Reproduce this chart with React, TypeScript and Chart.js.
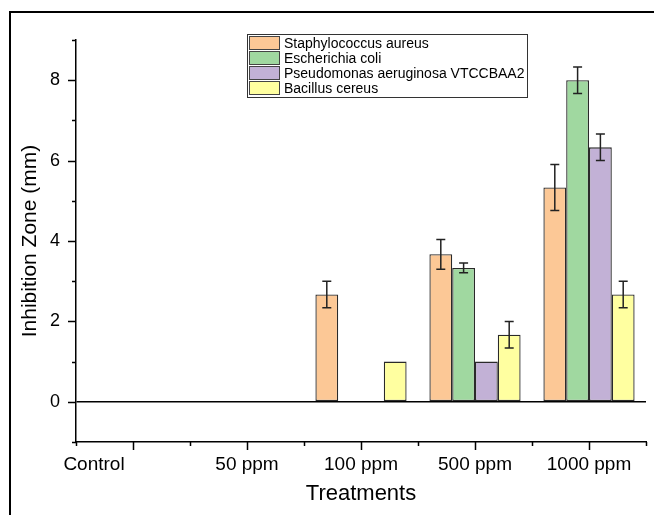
import React, { useEffect, useRef } from 'react';
import { Chart, registerables } from 'chart.js';

Chart.register(...registerables);

const categories = ['Control', '50 ppm', '100 ppm', '500 ppm', '1000 ppm'];
const seriesNames = [
  'Staphylococcus aureus',
  'Escherichia coli',
  'Pseudomonas aeruginosa VTCCBAA2',
  'Bacillus cereus',
];
const staphValues = [0, 0, 2.67, 3.67, 5.33];
const staphErrors = [0, 0, 0.33, 0.37, 0.57];
const ecoliValues = [0, 0, 0, 3.33, 8.0];
const ecoliErrors = [0, 0, 0, 0.12, 0.33];
const pseudoValues = [0, 0, 0, 1.0, 6.33];
const pseudoErrors = [0, 0, 0, 0, 0.33];
const bacillusValues = [0, 0, 1.0, 1.67, 2.67];
const bacillusErrors = [0, 0, 0, 0.33, 0.33];
const seriesColors = ['#FCC896', '#A0D8A0', '#C2B1D6', '#FFFFA0'];
const yMajorTicks = [0, 2, 4, 6, 8];

const FONT = "'Liberation Sans', Arial, sans-serif";

const framePlugin = {
  id: 'frame',
  beforeDraw(chart: any) {
    const ctx = chart.ctx;
    ctx.save();
    ctx.fillStyle = '#ffffff';
    ctx.fillRect(0, 0, chart.width, chart.height);
    ctx.fillStyle = '#000000';
    ctx.fillRect(9, 11, chart.width - 9, 2);
    ctx.fillRect(9, 11, 2, chart.height - 11);
    ctx.restore();
  },
};

const errorBarPlugin = {
  id: 'errorBars',
  afterDatasetsDraw(chart: any) {
    const ctx = chart.ctx;
    const yScale = chart.scales.y;
    ctx.save();
    ctx.strokeStyle = '#222222';
    ctx.lineWidth = 1.5;
    chart.data.datasets.forEach((ds: any, i: number) => {
      const meta = chart.getDatasetMeta(i);
      meta.data.forEach((bar: any, j: number) => {
        const err = ds.errors[j];
        const v = ds.data[j];
        if (!err) return;
        const x = bar.x;
        const yTop = yScale.getPixelForValue(v + err);
        const yBot = yScale.getPixelForValue(v - err);
        ctx.beginPath();
        ctx.moveTo(x, yTop);
        ctx.lineTo(x, yBot);
        ctx.moveTo(x - 4.5, yTop);
        ctx.lineTo(x + 4.5, yTop);
        ctx.moveTo(x - 4.5, yBot);
        ctx.lineTo(x + 4.5, yBot);
        ctx.stroke();
      });
    });
    ctx.restore();
  },
};

const axisDecorPlugin = {
  id: 'axisDecor',
  afterDraw(chart: any) {
    const ctx = chart.ctx;
    const { left, right, bottom } = chart.chartArea;
    const x = chart.scales.x;
    const y = chart.scales.y;
    ctx.save();
    ctx.strokeStyle = '#000000';
    ctx.lineWidth = 1.5;
    ctx.beginPath();
    // y ticks
    for (let v = Math.ceil(y.min); v <= y.max; v++) {
      const py = Math.round(y.getPixelForValue(v)) + 0.5;
      const len = yMajorTicks.includes(v) ? 8 : 4;
      ctx.moveTo(left, py);
      ctx.lineTo(left - len, py);
    }
    // x ticks
    const n = categories.length;
    const step = (right - left) / n;
    for (let i = 0; i < n; i++) {
      const px = Math.round(x.getPixelForValue(i)) + 0.5;
      ctx.moveTo(px, bottom);
      ctx.lineTo(px, bottom + 8);
    }
    for (let k = 0; k <= n; k++) {
      const px = Math.round(left + k * step) + 0.5;
      ctx.moveTo(px, bottom);
      ctx.lineTo(px, bottom + 4);
    }
    ctx.stroke();

    // x tick labels
    ctx.fillStyle = '#000000';
    ctx.font = `19px ${FONT}`;
    ctx.textAlign = 'center';
    ctx.textBaseline = 'alphabetic';
    categories.forEach((lab, i) => {
      const nudge = i === 0 ? -39 : 0;
      ctx.fillText(lab, x.getPixelForValue(i) + nudge, bottom + 28);
    });

    // legend
    const bx = 247;
    const by = 34;
    const bw = 280;
    const rowH = 15;
    const bh = rowH * chart.data.datasets.length + 3;
    ctx.fillStyle = '#ffffff';
    ctx.fillRect(bx, by, bw, bh);
    ctx.lineWidth = 1;
    ctx.strokeStyle = '#333333';
    ctx.strokeRect(bx + 0.5, by + 0.5, bw, bh);
    ctx.font = `14px ${FONT}`;
    ctx.textAlign = 'left';
    ctx.textBaseline = 'middle';
    chart.data.datasets.forEach((ds: any, i: number) => {
      const ry = by + 2 + i * rowH;
      ctx.fillStyle = ds.backgroundColor;
      ctx.fillRect(bx + 2.5, ry + 0.5, 30, 13);
      ctx.strokeStyle = '#444444';
      ctx.strokeRect(bx + 2.5, ry + 0.5, 30, 13);
      ctx.fillStyle = '#000000';
      ctx.fillText(ds.label, bx + 37, ry + 8);
    });
    ctx.restore();
  },
};

export default function App() {
  const canvasRef = useRef<HTMLCanvasElement | null>(null);

  useEffect(() => {
    const canvas = canvasRef.current;
    if (!canvas) return;
    const valueSets = [staphValues, ecoliValues, pseudoValues, bacillusValues];
    const errorSets = [staphErrors, ecoliErrors, pseudoErrors, bacillusErrors];
    const chart = new Chart(canvas, {
      type: 'bar',
      data: {
        labels: categories,
        datasets: seriesNames.map((name, i) => ({
          label: name,
          data: valueSets[i],
          errors: errorSets[i],
          backgroundColor: seriesColors[i],
          borderColor: '#2a2a2a',
          borderWidth: 1.3,
          borderSkipped: false,
          categoryPercentage: 0.8,
          barPercentage: 1.0,
        })) as any,
      },
      options: {
        responsive: false,
        animation: false,
        layout: { padding: { top: 40, right: 8, bottom: 0, left: 0 } },
        plugins: {
          legend: { display: false },
          tooltip: { enabled: false },
        },
        scales: {
          x: {
            type: 'category',
            offset: true,
            grid: { display: false, drawTicks: false },
            border: { display: true, color: '#000000', width: 1.5 },
            ticks: { display: false },
            title: {
              display: true,
              text: 'Treatments',
              color: '#000000',
              font: { family: FONT, size: 22 },
              padding: { top: 0, bottom: 8 },
            },
            afterFit(scale: any) {
              scale.height = 73;
            },
          },
          y: {
            min: -1,
            max: 9,
            grid: {
              drawTicks: false,
              color: (c: any) => (c.tick && c.tick.value === 0 ? '#000000' : 'rgba(0,0,0,0)'),
              lineWidth: 1.5,
            },
            border: { display: true, color: '#000000', width: 1.5 },
            ticks: {
              stepSize: 1,
              autoSkip: false,
              padding: 16,
              color: '#000000',
              font: { family: FONT, size: 18 },
              callback: (v: any) => (yMajorTicks.includes(Number(v)) ? String(v) : ''),
            },
            title: {
              display: true,
              text: 'Inhibition Zone (mm)',
              color: '#000000',
              font: { family: FONT, size: 21 },
              padding: { top: 18, bottom: 0 },
            },
            afterFit(scale: any) {
              scale.width = 76;
            },
          },
        },
      },
      plugins: [framePlugin, errorBarPlugin, axisDecorPlugin],
    });
    return () => chart.destroy();
  }, []);

  return (
    <div style={{ position: 'absolute', left: 0, top: 0, width: 654, height: 515 }}>
      <canvas ref={canvasRef} width={654} height={515} style={{ display: 'block' }} />
    </div>
  );
}
